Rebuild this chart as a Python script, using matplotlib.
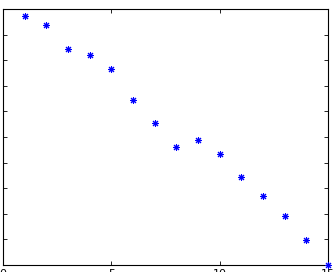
import matplotlib
matplotlib.use("Agg")
import matplotlib.pyplot as plt
import numpy as np

x = [1, 2, 3, 4, 5, 6, 7, 8, 9, 10, 11, 12, 13, 14, 15]
y = [0.973, 0.939, 0.844, 0.822, 0.764, 0.646, 0.554, 0.461, 0.489, 0.435,
     0.343, 0.271, 0.190, 0.096, 0.0]
xticks = [0, 5, 10, 15]
yticks = [0.0, 0.1, 0.2, 0.3, 0.4, 0.5, 0.6, 0.7, 0.8, 0.9, 1.0]

fig = plt.figure(figsize=(3.34, 2.72), dpi=100)
ax = fig.add_axes([3/334, 7/272, 325/334, 256/272])
ax.plot(x, y, linestyle='none', marker=(8, 2, 0), color='#0000ff',
        markersize=5, markeredgewidth=0.75, clip_on=False, zorder=5)
ax.set_xlim(0, 15)
ax.set_ylim(0, 1)
ax.set_xticks(xticks)
ax.set_yticks(yticks)
ax.tick_params(direction='in', length=3, width=0.6, top=True, right=True, labelsize=8, pad=3)
for s in ax.spines.values():
    s.set_linewidth(0.8)
fig.savefig("out.png", dpi=100)
